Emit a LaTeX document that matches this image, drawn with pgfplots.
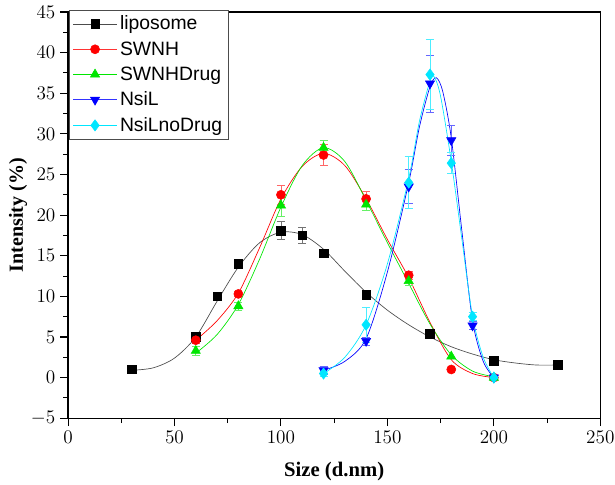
\documentclass[border=0pt]{standalone}
\usepackage{fontspec}
\setmainfont{Liberation Serif}
\newfontfamily\arial{Liberation Sans}
\usepackage{pgfplots}
\usepackage{pgfplotstable}
\pgfplotsset{compat=1.18}
\definecolor{cgreen}{RGB}{0,230,0}
\definecolor{ccyan}{RGB}{0,230,255}
% ---- measured points ----
\pgfplotstableread{
x y
30 1.0
60 5.0
70 10.0
80 14.0
100 18.1
110 17.5
120 15.3
140 10.2
170 5.4
200 2.1
230 1.6
}\lip
\pgfplotstableread{
x y e
100 18.1 1.1
110 17.5 1.0
}\lipE
\pgfplotstableread{
x y
60 4.6
80 10.3
100 22.5
120 27.4
140 22.0
160 12.6
180 1.0
200 0
}\swnh
\pgfplotstableread{
x y e
60 4.6 0.4
80 10.3 0.3
100 22.5 1.15
120 27.4 1.3
140 22.0 0.9
160 12.6 0.5
}\swnhE
\pgfplotstableread{
x y
60 3.3
80 8.8
100 21.2
120 28.3
140 21.3
160 11.9
180 2.6
200 0
}\swd
\pgfplotstableread{
x y e
60 3.3 0.6
80 8.8 0.5
100 21.2 1.4
120 28.3 0.9
140 21.3 0.7
160 11.9 0.5
}\swdE
\pgfplotstableread{
x y
120 0.9
140 4.5
160 23.5
170 36.2
180 29.2
190 6.4
200 0
}\nsil
\pgfplotstableread{
x y e
120 0.9 0.5
140 4.5 0.5
160 23.5 2.1
170 36.2 3.5
180 29.2 1.9
190 6.4 0.5
}\nsilE
\pgfplotstableread{
x y
120 0.5
140 6.5
160 24.0
170 37.3
180 26.4
190 7.5
200 0
}\nsin
\pgfplotstableread{
x y e
120 0.5 0.3
140 6.5 2.2
160 24.0 3.2
170 37.3 4.3
180 26.4 1.3
190 7.5 0.5
}\nsinE
% ---- fitted curves ----
\pgfplotstableread{
x y
30 0.9
40 1.2
50 2.4
60 5.0
70 9.4
80 13.6
90 16.6
100 17.9
110 17.6
120 15.8
130 13.1
140 10.5
150 8.3
160 6.5
170 5.0
180 3.8
190 2.9
200 2.2
210 1.8
220 1.55
230 1.55
}\lipC
\pgfplotstableread{
x y
60 4.6
70 7.0
80 10.4
90 16.0
100 22.0
110 26.0
120 27.6
130 26.1
140 22.0
150 17.0
160 12.3
170 6.8
180 2.2
190 0.5
200 0
}\swnhC
\pgfplotstableread{
x y
60 3.0
70 5.3
80 9.0
90 14.6
100 21.0
110 26.1
120 28.3
130 26.6
140 21.8
150 16.6
160 11.6
170 6.6
180 2.8
190 0.8
200 0.1
}\swdC
\pgfplotstableread{
x y
120 0.9
130 2.0
140 4.8
150 13.0
160 24.0
165 30.8
170 35.8
173 36.9
176 35.2
180 29.5
185 18.0
190 7.0
195 2.0
200 0
}\nsilC
\pgfplotstableread{
x y
120 0.5
130 2.5
140 6.5
150 14.0
160 24.5
165 31.5
170 36.5
172 37.0
175 34.6
180 26.6
185 17.0
190 7.5
195 2.5
200 0
}\nsinC
\begin{document}
\begin{tikzpicture}
\useasboundingbox (-51pt,-50pt) rectangle (410pt,313.5pt);
\begin{axis}[
  at={(0,0)}, anchor=south west,
  scale only axis, width=399pt, height=304.5pt,
  xmin=0, xmax=250, ymin=-5, ymax=45,
  xtick={0,50,...,250}, ytick={-5,0,...,45},
  minor x tick num=1, minor y tick num=1,
  tick align=outside, xtick pos=bottom, ytick pos=left,
  major tick length=6pt, minor tick length=3.75pt,
  axis line style={line width=0.9pt},
  every tick/.style={black, line width=0.8pt},
  tick label style={font=\fontsize{13.5}{15}\selectfont},
  xlabel={Size (d.nm)}, ylabel={Intensity (\%)},
  xlabel style={at={(axis description cs:0.5,-0.132)}, anchor=center, font=\fontsize{15.5}{17}\selectfont\bfseries},
  ylabel style={at={(axis description cs:-0.094,0.5)}, anchor=center, font=\fontsize{15}{17}\selectfont\bfseries},
  legend style={at={(axis description cs:0.002,1.006)}, anchor=north west,
    draw=black!70, line width=0.5pt, fill=white,
    font=\arial\fontsize{14.5}{16}\selectfont, row sep=3.2pt, inner sep=2.5pt,
    cells={anchor=west}},
  legend image code/.code={\draw[mark repeat=2, mark phase=2, line width=0.4pt] plot coordinates {(0cm,0cm) (0.58cm,0cm) (1.16cm,0cm)};},
]
% curves
\addplot[black!70, line width=0.5pt, smooth, no marks, forget plot] table {\lipC};
\addplot[red, line width=0.5pt, smooth, no marks, forget plot] table {\swnhC};
\addplot[cgreen, line width=0.5pt, smooth, no marks, forget plot] table {\swdC};
\addplot[blue, line width=0.5pt, smooth, no marks, forget plot] table {\nsilC};
\addplot[ccyan, line width=0.5pt, smooth, no marks, forget plot] table {\nsinC};
% error bars
\addplot[draw=none, no marks, forget plot, error bars/.cd, y dir=both, y explicit,
  error bar style={black!55, line width=0.5pt}, error mark options={rotate=90, mark size=3pt, black!55, line width=0.5pt}]
  table[x=x, y=y, y error=e] {\lipE};
\addplot[draw=none, no marks, forget plot, error bars/.cd, y dir=both, y explicit,
  error bar style={red!60, line width=0.5pt}, error mark options={rotate=90, mark size=3pt, red!60, line width=0.5pt}]
  table[x=x, y=y, y error=e] {\swnhE};
\addplot[draw=none, no marks, forget plot, error bars/.cd, y dir=both, y explicit,
  error bar style={cgreen!60, line width=0.5pt}, error mark options={rotate=90, mark size=3pt, cgreen!60, line width=0.5pt}]
  table[x=x, y=y, y error=e] {\swdE};
\addplot[draw=none, no marks, forget plot, error bars/.cd, y dir=both, y explicit,
  error bar style={blue!60, line width=0.5pt}, error mark options={rotate=90, mark size=3pt, blue!60, line width=0.5pt}]
  table[x=x, y=y, y error=e] {\nsilE};
\addplot[draw=none, no marks, forget plot, error bars/.cd, y dir=both, y explicit,
  error bar style={ccyan!70, line width=0.5pt}, error mark options={rotate=90, mark size=3pt, ccyan!70, line width=0.5pt}]
  table[x=x, y=y, y error=e] {\nsinE};
% markers
\addplot[only marks, mark=square*, mark size=3.2pt, black, forget plot] table {\lip};
\addplot[only marks, mark=*, mark size=3.4pt, red, forget plot] table {\swnh};
\addplot[only marks, mark=triangle*, mark size=4pt, cgreen, forget plot] table {\swd};
\addplot[only marks, mark=triangle*, mark size=4pt, blue, mark options={rotate=180}, forget plot] table {\nsil};
\addplot[only marks, mark=diamond*, mark size=4.2pt, ccyan, forget plot] table {\nsin};
% legend
\addlegendimage{black!70, mark=square*, mark options={black, mark size=3.2pt}}
\addlegendentry{liposome}
\addlegendimage{red!80, mark=*, mark options={red, mark size=3.4pt}}
\addlegendentry{SWNH}
\addlegendimage{cgreen, mark=triangle*, mark options={cgreen, mark size=4pt}}
\addlegendentry{SWNHDrug}
\addlegendimage{blue!80, mark=triangle*, mark options={blue, mark size=4pt, rotate=180}}
\addlegendentry{NsiL}
\addlegendimage{ccyan, mark=diamond*, mark options={ccyan, mark size=4.2pt}}
\addlegendentry{NsiLnoDrug}
\end{axis}
\end{tikzpicture}
\end{document}
